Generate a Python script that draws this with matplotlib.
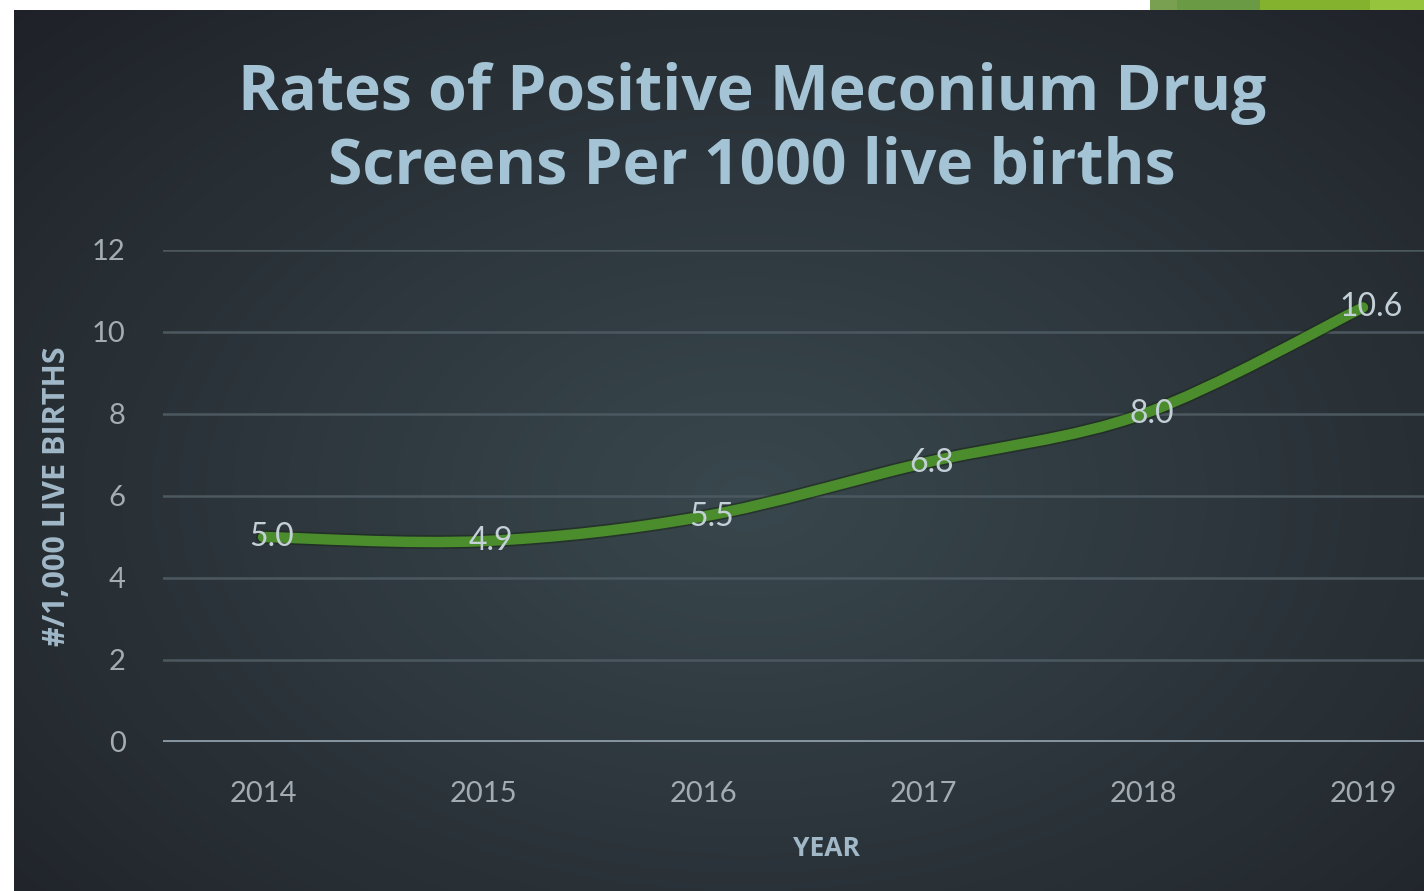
import numpy as np
import matplotlib
matplotlib.use("Agg")
import matplotlib.pyplot as plt
import matplotlib.patheffects as pe
from matplotlib.path import Path
import matplotlib.patches as patches

# Data ---------------------------------------------
years = ["2014", "2015", "2016", "2017", "2018", "2019"]
rates = [5.0, 4.9, 5.5, 6.8, 8.0, 10.6]
yticks = [0, 2, 4, 6, 8, 10, 12]

narrow = ["Liberation Sans Narrow", "Lato"]

# Figure + background ------------------------------
W, H = 1424, 891
fig = plt.figure(figsize=(W / 100, H / 100), dpi=100)
fig.patch.set_facecolor("white")

bg = fig.add_axes([14 / W, 0, 1 - 14 / W, 1 - 10 / H])
bg.set_axis_off()
yy, xx = np.mgrid[0:1:300j, 0:1:450j]
r = np.sqrt(((xx - 0.52) / 0.75) ** 2 + ((yy - 0.55) / 0.8) ** 2)
r = np.clip(r, 0, 1)
c_in = np.array([0x39, 0x48, 0x4e]) / 255
c_out = np.array([0x1e, 0x21, 0x27]) / 255
img = c_in[None, None, :] * (1 - r[..., None]) + c_out[None, None, :] * r[..., None]
bg.imshow(img, aspect="auto", extent=[0, 1, 0, 1], origin="upper")
bg.set_xlim(0, 1)
bg.set_ylim(0, 1)

# green stripes at the top right (slide decoration)
top = fig.add_axes([0, 1 - 10 / H, 1, 10 / H])
top.set_axis_off()
top.set_xlim(0, W)
top.set_ylim(0, 1)
stripes = [(1150, 1177, "#78a050"), (1177, 1260, "#6a9a44"),
           (1260, 1370, "#84b22e"), (1370, 1424, "#96c43c")]
for x0, x1, col in stripes:
    top.add_patch(patches.Rectangle((x0, 0), x1 - x0, 1, color=col, lw=0))

# Chart axes ---------------------------------------
unit = 220.0
left_px, zero_px, top_px = 163, 742, 250
ax = fig.add_axes([left_px / W, (H - zero_px) / H, (W - left_px) / W,
                   (zero_px - top_px) / H])
ax.set_facecolor("none")
x = np.arange(len(years))
ax.set_xlim(-(263 - left_px) / unit, 5 + (W - 1363) / unit)
ax.set_ylim(0, 12)

for t in yticks[1:]:
    ax.axhline(t, color="#4c585f", lw=1.8, zorder=1)
ax.axhline(0, color="#8796a0", lw=2.8, zorder=1)

for s in ax.spines.values():
    s.set_visible(False)
ax.set_yticks(yticks)
ax.set_xticks(x)
ax.set_xticklabels(years)
ax.tick_params(length=0, colors="#a2acb2", labelsize=21)
ax.tick_params(axis="x", pad=28)
ax.tick_params(axis="y", pad=27)
for lab in ax.get_xticklabels() + ax.get_yticklabels():
    lab.set_fontfamily(narrow)

# smooth line (Catmull-Rom as cubic beziers through the data points)
pts = np.column_stack([x, rates])
verts = [tuple(pts[0])]
codes = [Path.MOVETO]
for i in range(len(pts) - 1):
    p0 = pts[max(i - 1, 0)]
    p1 = pts[i]
    p2 = pts[i + 1]
    p3 = pts[min(i + 2, len(pts) - 1)]
    c1 = p1 + (p2 - p0) / 6
    c2 = p2 - (p3 - p1) / 6
    verts += [tuple(c1), tuple(c2), tuple(p2)]
    codes += [Path.CURVE4] * 3
line = patches.PathPatch(Path(verts, codes), fill=False, edgecolor="#4b8c2d",
                         lw=7.5, capstyle="round", zorder=3,
                         path_effects=[pe.Stroke(linewidth=10, foreground="#1c2a1a", alpha=0.6),
                                       pe.Normal()])
ax.add_patch(line)

for xi, v in zip(x, rates):
    ax.annotate(f"{v:.1f}", (xi, v), xytext=(6, 0), textcoords="offset points",
                ha="center", va="center", fontsize=23, color="#c4d0d8",
                family=narrow, zorder=4)

ax.set_ylabel("#/1,000 LIVE BIRTHS", fontsize=22, fontweight="bold",
              color="#a0b8c8", family="Open Sans", labelpad=14)
fig.text(826 / W, 1 - 848 / H, "YEAR", ha="center", va="center",
         fontsize=19, fontweight="bold", color="#a0b8c8", family="Open Sans")

fig.text(752 / W, 1 - 130 / H, "Rates of Positive Meconium Drug\nScreens Per 1000 live births",
         ha="center", va="center", fontsize=45, fontweight="bold",
         color="#a4c4d6", family="Open Sans", linespacing=1.22)

fig.savefig("out.png", dpi=100)
